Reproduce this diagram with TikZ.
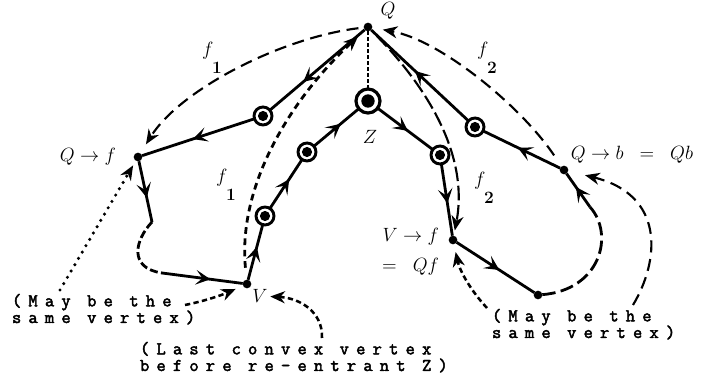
\documentclass[tikz,border=0pt]{standalone}
\usepackage{fontspec}
\newfontfamily\annfont{Latin Modern Mono}[LetterSpace=40,FakeBold=2.5]
\usetikzlibrary{arrows.meta,decorations.markings}
\newcommand\myfsub[1]{$f$\hspace{-1pt}\raisebox{-14pt}{\fontsize{13pt}{14pt}\selectfont\bfseries #1}}
\newcommand\annsetup{\annfont\fontsize{13.5pt}{12.5pt}\selectfont\lineskiplimit=-50pt\relax\lineskip=0pt\relax}
\begin{document}
\begin{tikzpicture}[x=0.75pt,y=-0.75pt,
  every node/.style={inner sep=0pt,outer sep=0pt},
  vdot/.style={circle,fill=black,minimum size=6.5pt},
  vcirc/.style={circle,draw=black,line width=2.2pt,fill=white,minimum size=13.5pt,
    path picture={\fill[black] (path picture bounding box.center) circle (3.8pt);}},
  zcirc/.style={circle,draw=black,line width=2.4pt,fill=white,minimum size=18pt,
    path picture={\fill[black] (path picture bounding box.center) circle (5pt);}},
  poly/.style={line width=2.1pt},
  polydashA/.style={line width=2.1pt,dash pattern=on 6pt off 2.5pt},
  polydashB/.style={line width=2.1pt,dash pattern=on 10pt off 4pt},
  marr/.style={postaction={decorate},decoration={markings,
    mark=at position #1 with {\arrow{Stealth[length=11pt,width=11pt,inset=5pt]}}}},
  tipA/.style={-{Stealth[length=11pt,width=9pt,inset=3.5pt]}},
  fdash/.style={line width=1.6pt,dash pattern=on 9pt off 5pt,tipA},
  fdashB/.style={line width=2.1pt,dash pattern=on 5pt off 3.5pt,tipA},
  fdashC/.style={line width=1.6pt,dash pattern=on 11pt off 3.5pt,tipA},
  sdash/.style={line width=1.9pt,dash pattern=on 4pt off 2.5pt,tipA},
  dotln/.style={line width=2.6pt,line cap=round,dash pattern=on 0pt off 5.5pt,tipA},
  qzdot/.style={line width=2.1pt,dash pattern=on 2.5pt off 2pt},
  lab/.style={font=\fontsize{14pt}{16pt}\selectfont},
  ann/.style={align=left,anchor=base west,font=\annsetup}]
\useasboundingbox (0,0) rectangle (711,377);
% vertices
\node[vdot] (q) at (368,27) {};
\node[vcirc] (c1) at (263,116) {};
\node[vdot] (qf) at (138,157) {};
\coordinate (a) at (152,222);
\coordinate (b) at (162,273);
\node[vdot] (v) at (247,284) {};
\node[vcirc] (c2) at (265,216) {};
\node[vcirc] (c3) at (307,152) {};
\node[zcirc] (z) at (368,101) {};
\node[vcirc] (c4) at (440,155) {};
\node[vdot] (vf) at (453,240) {};
\node[vdot] (d) at (538,295) {};
\coordinate (e) at (590,207);
\node[vdot] (qb) at (564,170) {};
\node[vcirc] (c5) at (475,127) {};
% polygon edges
\draw[poly,marr=0.65] (q) -- (c1);
\draw[poly,marr=0.55] (c1) -- (qf);
\draw[poly,marr=0.6] (qf) -- (a);
\draw[polydashA] (a) .. controls (135,240) and (128,268) .. (b);
\draw[poly,marr=0.6] (b) -- (v);
\draw[poly,marr=0.6] (v) -- (c2);
\draw[poly,marr=0.6] (c2) -- (c3);
\draw[poly,marr=0.6] (c3) -- (z);
\draw[poly,marr=0.55] (z) -- (c4);
\draw[poly,marr=0.55] (c4) -- (vf);
\draw[poly,marr=0.55] (vf) -- (d);
\draw[polydashB] (d) .. controls (600,290) and (615,235) .. (e);
\draw[poly,marr=0.6] (e) -- (qb);
\draw[poly,marr=0.55] (qb) -- (c5);
\draw[poly,marr=0.55] (c5) -- (q);
\draw[qzdot] (q) -- (z);
% f paths
\draw[fdash,shorten <=4pt,shorten >=8pt] (q) .. controls (280,38) and (180,90) .. (qf);
\draw[fdashB,shorten <=9pt,shorten >=7pt] (v) .. controls (238,190) and (285,105) .. (q);
\draw[fdashC,shorten <=6pt,shorten >=4pt] (q) .. controls (420,80) and (470,150) .. (vf);
\draw[fdash,shorten <=10pt,shorten >=8pt] (qb) .. controls (520,105) and (440,40) .. (q);
% labels
\node[lab] (qlab) at (388,11) {$Q$};
\node[lab] (qflab) at (88,157) {$Q\rightarrow f$};
\node[lab] (qblab) at (632,155) {$Q\rightarrow b\;\;=\;\;Qb$};
\node[lab,anchor=east] (vflab) at (439,237) {$V\rightarrow f$};
\node[lab,anchor=east] (qflab2) at (439,267) {$=\;\;Qf$};
\node[lab] (zlab) at (370,137) {$Z$};
\node[lab] (vlab) at (260,296) {$V$};
\node[lab] (f1a) at (212,58) {\myfsub{1}};
\node[lab] (f1b) at (226,185) {\myfsub{1}};
\node[lab] (f2a) at (487,58) {\myfsub{2}};
\node[lab] (f2b) at (484,188) {\myfsub{2}};
% annotations
\node[ann] (n1) at (12,323) {(May be the\\same vertex)};
\node[ann] (n2) at (140,371) {(Last convex vertex\\before re-entrant Z)};
\node[ann] (n3) at (492,338) {(May be the\\same vertex)};
\coordinate (l1) at (60,290);
\coordinate (l2) at (185,305);
\coordinate (l3) at (322,338);
\coordinate (l4) at (487,308);
\coordinate (l5) at (633,305);
\draw[dotln,shorten >=4pt] (l1) -- (qf);
\draw[sdash,shorten >=6pt] (l2) .. controls (205,301) and (222,295) .. (v);
\draw[sdash,shorten >=2pt] (l3) .. controls (323,312) and (300,298) .. (vlab);
\draw[sdash,shorten >=6pt] (l4) .. controls (472,292) and (460,272) .. (vf);
\draw[fdash,shorten >=13pt] (l5) .. controls (660,260) and (665,195) .. (qb);
\end{tikzpicture}
\end{document}
